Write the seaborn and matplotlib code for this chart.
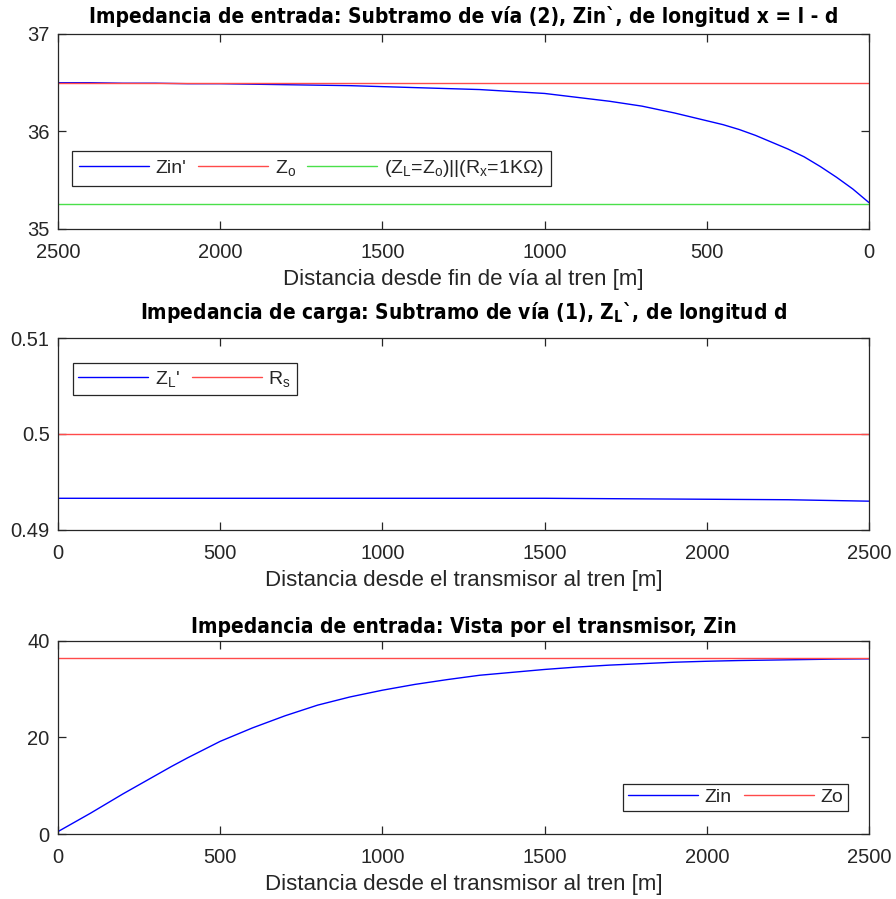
import numpy as np
import pandas as pd
import matplotlib
matplotlib.use("Agg")
import matplotlib.pyplot as plt
import seaborn as sns

# ---------------- data ----------------
x_dist = [0, 50, 100, 150, 200, 250, 300, 350, 400, 450, 500, 600, 700, 800, 900,
          1000, 1100, 1200, 1300, 1400, 1500, 1600, 1700, 1800, 1900, 2000, 2100,
          2200, 2300, 2400, 2500]
zin_prime = [35.27, 35.41, 35.53, 35.64, 35.74, 35.82, 35.89, 35.96, 36.02, 36.07,
             36.11, 36.19, 36.26, 36.31, 36.35, 36.39, 36.41, 36.43, 36.44, 36.45,
             36.46, 36.47, 36.475, 36.48, 36.485, 36.49, 36.49, 36.495, 36.495,
             36.5, 36.5]
zo_value = 36.5
zl_par_rx = 35.26

d_dist = [0, 250, 500, 750, 1000, 1250, 1500, 1750, 2000, 2250, 2500]
zl_prime = [0.4933, 0.4933, 0.4933, 0.4933, 0.4933, 0.4933, 0.4933, 0.49325,
            0.4932, 0.49315, 0.4930]
rs_value = 0.5

zin = [0.5, 2.4, 4.3, 6.3, 8.3, 10.2, 12.1, 14.0, 15.8, 17.5, 19.2, 22.0, 24.5,
       26.7, 28.4, 29.8, 31.0, 32.0, 32.9, 33.5, 34.1, 34.6, 35.0, 35.3, 35.6,
       35.8, 35.95, 36.05, 36.15, 36.25, 36.3]

titles = ["Impedancia de entrada: Subtramo de vía (2), Zin`, de longitud x = l - d",
          r"Impedancia de carga: Subtramo de vía (1), $\mathbf{Z_L}$`, de longitud d",
          "Impedancia de entrada: Vista por el transmisor, Zin"]
xlabels = ["Distancia desde fin de vía al tren [m]",
           "Distancia desde el transmisor al tren [m]",
           "Distancia desde el transmisor al tren [m]"]

# ---------------- style ----------------
sns.set_theme(style="white")
plt.rcParams["font.family"] = ["Liberation Sans", "DejaVu Sans"]
plt.rcParams["mathtext.fontset"] = "custom"
plt.rcParams["mathtext.rm"] = "Liberation Sans"
plt.rcParams["mathtext.it"] = "Liberation Sans"
plt.rcParams["mathtext.bf"] = "DejaVu Sans:bold:stretch=condensed"
plt.rcParams["axes.edgecolor"] = "#262626"
plt.rcParams["axes.linewidth"] = 0.9
for a in ("xtick", "ytick"):
    plt.rcParams[f"{a}.direction"] = "in"
    plt.rcParams[f"{a}.major.size"] = 5.5
    plt.rcParams[f"{a}.major.width"] = 0.9
    plt.rcParams[f"{a}.color"] = "#262626"
    plt.rcParams[f"{a}.labelsize"] = 14.5
    plt.rcParams[f"{a}.labelcolor"] = "#262626"

BLUE = "#0000ff"
RED = "#ff4a4a"
GREEN = "#4ae04a"

fig = plt.figure(figsize=(8.96, 8.99), dpi=100)
ax1 = fig.add_axes([0.0647, 0.7453, 0.9052, 0.2169])
ax2 = fig.add_axes([0.0647, 0.4105, 0.9052, 0.2135])
ax3 = fig.add_axes([0.0647, 0.0723, 0.9052, 0.2147])

title_font = dict(family="DejaVu Sans", stretch="condensed",
                  weight="bold", size=15, color="black")
label_font = dict(size=16, color="#262626")
leg_kw = dict(fontsize=14, frameon=True, fancybox=False, edgecolor="#262626",
              handlelength=3.6, handletextpad=0.35, columnspacing=0.6,
              borderaxespad=0.0)

# ---- subplot 1 ----
df1 = pd.DataFrame({"x": x_dist, "zin": zin_prime})
sns.lineplot(data=df1, x="x", y="zin", ax=ax1, color=BLUE, lw=1.0, label="Zin'")
ax1.axhline(zo_value, color=RED, lw=1.0, label=r"Z$_\mathregular{o}$")
ax1.axhline(zl_par_rx, color=GREEN, lw=1.0,
            label=r"(Z$_\mathregular{L}$=Z$_\mathregular{o}$)||(R$_\mathregular{x}$=1K$\Omega$)")
ax1.set_xlim(2500, 0)
ax1.set_ylim(35, 37)
ax1.set_xticks([2500, 2000, 1500, 1000, 500, 0])
ax1.set_yticks([35, 36, 37])
ax1.legend(loc="lower left", bbox_to_anchor=(0.017, 0.22), ncol=3,
           borderpad=0.35, **leg_kw)

# ---- subplot 2 ----
df2 = pd.DataFrame({"d": d_dist, "zl": zl_prime})
sns.lineplot(data=df2, x="d", y="zl", ax=ax2, color=BLUE, lw=1.0, label=r"Z$_\mathregular{L}$'")
ax2.axhline(rs_value, color=RED, lw=1.0, label=r"R$_\mathregular{s}$")
ax2.set_xlim(0, 2500)
ax2.set_ylim(0.49, 0.51)
ax2.set_xticks([0, 500, 1000, 1500, 2000, 2500])
ax2.set_yticks([0.49, 0.5, 0.51])
ax2.set_yticklabels(["0.49", "0.5", "0.51"])
ax2.legend(loc="upper left", bbox_to_anchor=(0.018, 0.87), ncol=2,
           borderpad=0.3, **leg_kw)

# ---- subplot 3 ----
df3 = pd.DataFrame({"d": x_dist, "zin": zin})
sns.lineplot(data=df3, x="d", y="zin", ax=ax3, color=BLUE, lw=1.0, label="Zin")
ax3.axhline(zo_value, color=RED, lw=1.0, label="Zo")
ax3.set_xlim(0, 2500)
ax3.set_ylim(0, 40)
ax3.set_xticks([0, 500, 1000, 1500, 2000, 2500])
ax3.set_yticks([0, 20, 40])
ax3.legend(loc="lower right", bbox_to_anchor=(0.974, 0.119), ncol=2,
           borderpad=0.25, **leg_kw)

for ax, t, xl, tp in zip((ax1, ax2, ax3), titles, xlabels, (8, 14, 6)):
    ax.set_title(t, pad=tp, **title_font)
    ax.set_xlabel(xl, labelpad=5, **label_font)
    ax.set_ylabel("")
    for s in ax.spines.values():
        s.set_visible(True)
    ax.tick_params(top=True, right=True, bottom=True, left=True)
    ax.tick_params(axis="x", pad=10)
    ax.tick_params(axis="y", pad=6)
    ax.get_legend().get_frame().set_linewidth(0.9)
    ax.get_legend().get_frame().set_alpha(1)

fig.savefig("out.png", dpi=100, facecolor="white")
